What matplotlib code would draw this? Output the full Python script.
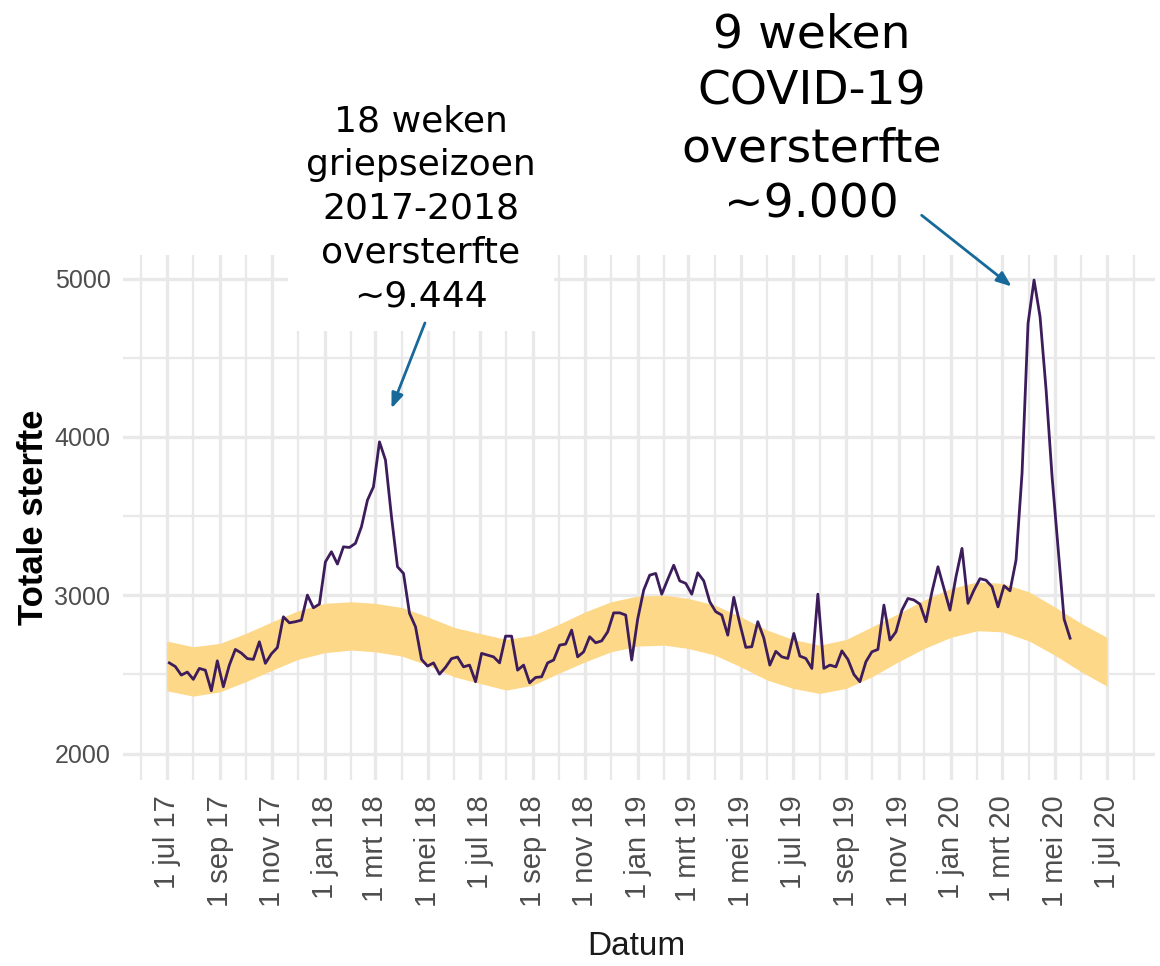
import matplotlib
matplotlib.use("Agg")
import matplotlib.pyplot as plt
import matplotlib.dates as mdates
from matplotlib.ticker import MultipleLocator, FuncFormatter
import pandas as pd

# wekelijkse totale sterfte, vanaf begin juli 2017
week_start = "2017-07-04"
sterfte = [
    2573, 2550, 2496, 2515, 2469, 2538, 2527, 2397, 2586, 2422,
    2559, 2658, 2635, 2600, 2595, 2706, 2570, 2630, 2670, 2864,
    2826, 2833, 2843, 3001, 2921, 2944, 3211, 3275, 3197, 3306,
    3302, 3328, 3433, 3601, 3685, 3969, 3854, 3496, 3180, 3138,
    2886, 2801, 2595, 2553, 2573, 2502, 2545, 2600, 2610, 2548,
    2559, 2454, 2633, 2622, 2611, 2573, 2742, 2742, 2527, 2559,
    2447, 2481, 2485, 2573, 2591, 2685, 2692, 2780, 2611, 2643,
    2738, 2700, 2712, 2769, 2889, 2889, 2875, 2591, 2850, 3033,
    3127, 3138, 3007, 3100, 3190, 3091, 3075, 3007, 3142, 3091,
    2959, 2896, 2875, 2748, 2987, 2822, 2671, 2675, 2833, 2730,
    2559, 2646, 2611, 2601, 2759, 2616, 2601, 2538, 3007, 2538,
    2559, 2548, 2649, 2595, 2500, 2454, 2580, 2643, 2658, 2938,
    2717, 2769, 2906, 2980, 2970, 2944, 2833, 3022, 3180, 3043,
    2906, 3117, 3296, 2949, 3033, 3105, 3095, 3054, 2927, 3060,
    3028, 3222, 3770, 4717, 4991, 4759, 4300, 3750, 3300, 2850, 2729,
]

# verwachte sterfte (band), per 1e van de maand jul 2017 - jul 2020
band_start = "2017-07-01"
band_laag = [
    2397, 2363, 2390, 2454, 2527, 2595,
    2637, 2654, 2643, 2616, 2559, 2485, 2443, 2401, 2433, 2507, 2580, 2643,
    2679, 2685, 2664, 2622, 2548, 2464, 2412, 2380, 2412, 2485, 2580, 2664,
    2734, 2776, 2769, 2712, 2622, 2517, 2426,
]
band_hoog = [
    2711, 2675, 2696, 2759, 2833, 2902,
    2949, 2959, 2949, 2923, 2864, 2797, 2759, 2721, 2748, 2817, 2896, 2959,
    2995, 3001, 2980, 2938, 2864, 2780, 2721, 2685, 2721, 2801, 2885, 2970,
    3043, 3085, 3075, 3022, 2927, 2822, 2734,
]

maanden = ["jan", "feb", "mrt", "apr", "mei", "jun",
           "jul", "aug", "sep", "okt", "nov", "dec"]

tekst_griep = "18 weken\ngriepseizoen\n2017-2018\noversterfte\n~9.444"
tekst_covid = "9 weken\nCOVID-19\noversterfte\n~9.000"

weken = pd.date_range(week_start, periods=len(sterfte), freq="7D")
band_data = pd.date_range(band_start, periods=len(band_laag), freq="MS")

grid_kleur = "#e9e9e9"
pijl_kleur = "#17699a"

fig = plt.figure(figsize=(11.6, 9.66), dpi=100)
ax = fig.add_axes([0.106, 0.1925, 0.8897, 0.5435])

ax.fill_between(band_data, band_laag, band_hoog, color="#fdd888", lw=0, zorder=2)
ax.plot(weken, sterfte, color="#3d1c5c", lw=2.0, zorder=3)

ax.set_xlim(pd.Timestamp("2017-05-11"), pd.Timestamp("2020-08-26"))
ax.set_ylim(1833, 5149)

ax.xaxis.set_major_locator(mdates.MonthLocator(bymonth=[1, 3, 5, 7, 9, 11]))
ax.xaxis.set_minor_locator(mdates.MonthLocator())
ax.xaxis.set_major_formatter(FuncFormatter(
    lambda v, pos: "1 %s %02d" % (maanden[mdates.num2date(v).month - 1],
                                  mdates.num2date(v).year % 100)))
ax.yaxis.set_major_locator(MultipleLocator(1000))
ax.yaxis.set_minor_locator(MultipleLocator(500))

ax.grid(which="major", color=grid_kleur, lw=2.4, zorder=0)
ax.grid(which="minor", color=grid_kleur, lw=1.7, zorder=0)
ax.set_axisbelow(True)
for s in ax.spines.values():
    s.set_visible(False)

ax.tick_params(which="both", length=0)
ax.tick_params(axis="x", pad=11, labelrotation=90, labelsize=21, labelcolor="#4d4d4d")
ax.tick_params(axis="y", pad=9, labelsize=18, labelcolor="#4d4d4d")
for lab in ax.get_xticklabels():
    lab.set_family(["Liberation Sans", "DejaVu Sans"])
    lab.set_verticalalignment("top")
for lab in ax.get_yticklabels():
    lab.set_family(["Liberation Sans", "DejaVu Sans"])

ax.set_ylabel("Totale sterfte", fontsize=25, fontweight="bold",
              family=["Liberation Sans", "DejaVu Sans"], color="black")
ax.yaxis.set_label_coords(-0.071, 0.5)
ax.set_xlabel("Datum", fontsize=24, color="#1a1a1a",
              family=["Liberation Sans", "DejaVu Sans"])
ax.xaxis.set_label_coords(0.497, -0.288)

# annotaties
ax.text(pd.Timestamp("2018-04-23"), 5440, tekst_griep, ha="center", va="center",
        fontsize=26, family="DejaVu Sans", color="black", linespacing=1.36,
        clip_on=False, zorder=5,
        bbox=dict(boxstyle="square,pad=0.5", facecolor="white", edgecolor="none"))
ax.annotate("", xy=(pd.Timestamp("2018-03-20"), 4180),
            xytext=(pd.Timestamp("2018-04-28"), 4720),
            arrowprops=dict(arrowstyle="-|>,head_length=0.9,head_width=0.35",
                            color=pijl_kleur, lw=2, shrinkA=0, shrinkB=0),
            annotation_clip=False, zorder=6)

ax.text(pd.Timestamp("2019-07-23"), 6000, tekst_covid, ha="center", va="center",
        fontsize=34, family="DejaVu Sans", color="black", linespacing=1.33,
        clip_on=False, zorder=5)
ax.annotate("", xy=(pd.Timestamp("2020-03-12"), 4950),
            xytext=(pd.Timestamp("2019-11-28"), 5400),
            arrowprops=dict(arrowstyle="-|>,head_length=0.9,head_width=0.35",
                            color=pijl_kleur, lw=2, shrinkA=0, shrinkB=0),
            annotation_clip=False, zorder=6)

fig.savefig("out.png", dpi=100, facecolor="white")
